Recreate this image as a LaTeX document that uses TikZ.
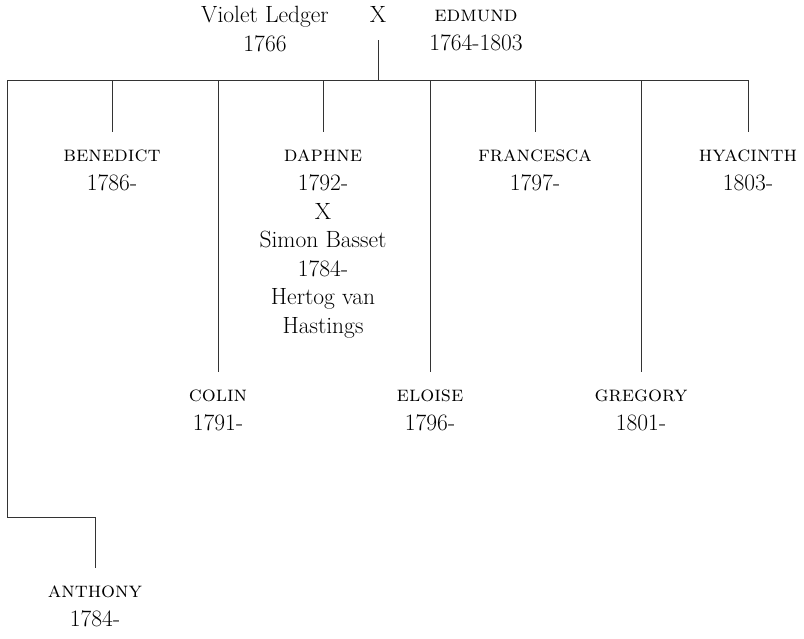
\documentclass[tikz,border=0pt]{standalone}
\usepackage{tikz}
\usetikzlibrary{calc}
\newcommand\naam[1]{{\fontsize{22}{28.6}\selectfont\textsc{#1}}}

\begin{document}
\begin{tikzpicture}[x=1pt,y=-1pt,
		ouder/.style={align=center,anchor=north,inner sep=0pt,font=\fontsize{23.5}{28.6}\selectfont,text=black},
		kind/.style={ouder,inner xsep=2pt,inner ysep=18pt},
		tak/.style={draw=black!80,line width=0.9pt}]
		% parents: violet x edmund
		\useasboundingbox (0,0) rectangle (804,638);
		\node[ouder] (violet) at (265,6) {Violet Ledger\\1766};
		\node[ouder] (huwelijk) at (378,6) {X};
		\node[ouder] (edmund) at (476,10) {\naam{edmund}\\1764-1803};
		\coordinate (bar) at (378,80);
		\coordinate (hoek) at (7,517);
		% children
		\node[kind] (benedict) at (112,132) {\naam{benedict}\\1786-};
		\node[kind] (colin) at (218,372) {\naam{colin}\\1791-};
		\node[kind] (daphne) at (323,132) {\naam{daphne}\\1792-\\X\\Simon Basset\\1784-\\Hertog van\\Hastings};
		\node[kind] (eloise) at (430,372) {\naam{eloise}\\1796-};
		\node[kind] (francesca) at (535,132) {\naam{francesca}\\1797-};
		\node[kind] (gregory) at (641,372) {\naam{gregory}\\1801-};
		\node[kind] (hyacinth) at (748,132) {\naam{hyacinth}\\1803-};
		\node[kind] (anthony) at (95,568) {\naam{anthony}\\1784-};
		% lines
		\draw[tak] ([yshift=-18pt]huwelijk.south) -- (huwelijk.south |- bar);
		\draw[tak] (hyacinth.north |- bar) -- (bar -| hoek) -- (hoek) -| (anthony.north);
		\foreach \kind in {benedict,colin,daphne,eloise,francesca,gregory,hyacinth}{
			\draw[tak] (bar -| \kind.north) -- (\kind.north);
		}
	\end{tikzpicture}
\end{document}
